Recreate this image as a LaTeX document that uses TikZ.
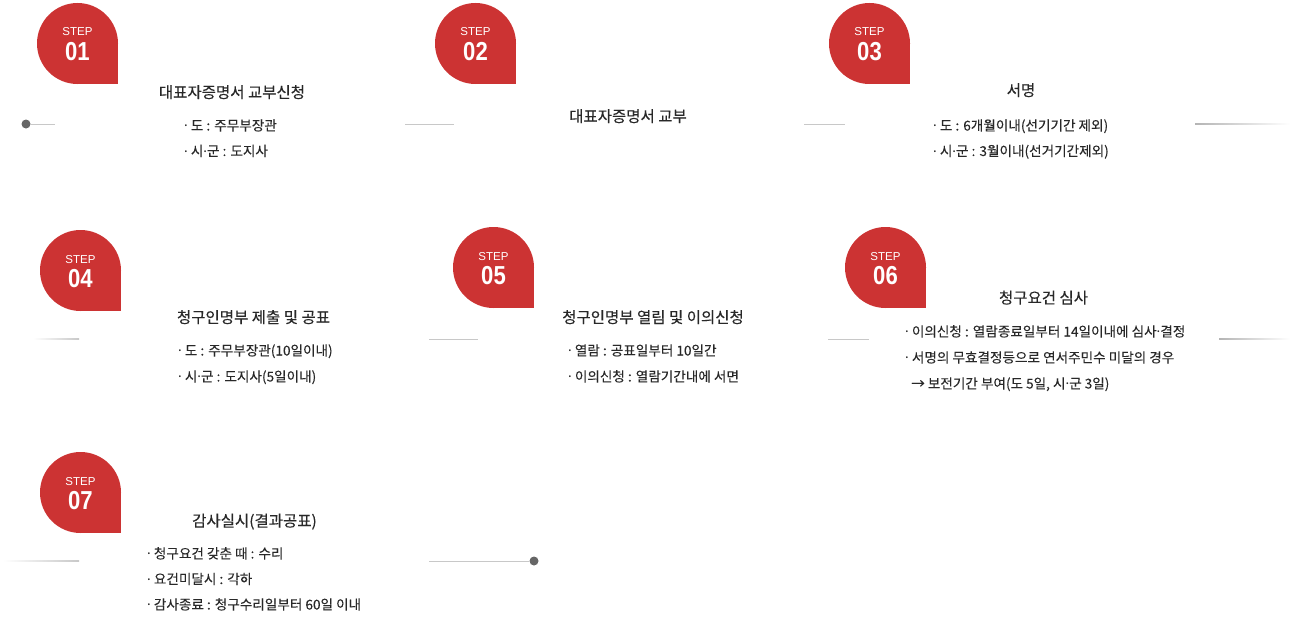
\documentclass[tikz,border=0pt]{standalone}
\usepackage{fontspec}
\usepackage{graphicx}
\setmainfont{Noto Sans CJK KR}[FakeBold=0.1]
\newfontfamily\titlefont{Noto Sans CJK KR}[FakeBold=0.25]
\newfontfamily\latinfont{Noto Sans}
\newfontfamily\stepfont{Liberation Sans}
\usepackage{tikz}

\definecolor{stepred}{RGB}{204,51,51}
\definecolor{textdark}{RGB}{40,40,40}
\definecolor{linegray}{RGB}{200,200,200}
\definecolor{dotgray}{RGB}{102,102,102}

% narrow middle dot
\newcommand{\mdot}{{\latinfont ·}}

\begin{document}
\begin{tikzpicture}[x=1pt, y=-1pt,
    badge/.style={circle, fill=stepred, minimum size=81pt, inner sep=0pt},
    steptxt/.style={anchor=base, text=white, inner sep=0pt, font=\stepfont\fontsize{11.5}{11.5}\selectfont},
    stepnum/.style={anchor=base, text=white, inner sep=0pt, font=\stepfont\bfseries\fontsize{26}{26}\selectfont},
    steptitle/.style={anchor=base, text=textdark, inner sep=0pt, font=\titlefont\fontsize{15.5}{15.5}\selectfont},
    stepitem/.style={anchor=base west, text=textdark, inner sep=0pt, font=\fontsize{13.6}{13.6}\selectfont},
    link/.style={draw=linegray, line width=1pt},
    enddot/.style={circle, fill=dotgray, minimum size=9pt, inner sep=0pt}
]
\useasboundingbox (0,0) rectangle (1297,642);

% Step badges
\foreach \n/\px/\py/\num in {s1/77.5/43.5/01, s2/475.5/43.5/02, s3/869.5/43.5/03,
    s4/80.5/270.5/04, s5/493.5/267.5/05, s6/885.5/267.5/06, s7/80.5/492.5/07} {
  \node[badge] (\n) at (\px,\py) {};
  \fill[stepred] (\n.center) rectangle (\n.east |- \n.south);
  \node[steptxt] (\n-t) at ([yshift=7.5pt]\n.center) {STEP};
  \node[stepnum] (\n-n) at ([yshift=-16.5pt]\n.center) {\scalebox{0.85}[1]{\num}};
}

% Row 1
\node[steptitle] (t1) at (232,98) {대표자증명서 교부신청};
\node[stepitem] (b1a) at (184,130.5) {\mdot{} 도 : 주무부장관};
\node[stepitem] (b1b) at (184,156) {\mdot{} 시\mdot 군 : 도지사};

\node[steptitle] (t2) at (628,122) {대표자증명서 교부};

\node[steptitle] (t3) at (1021,96) {서명};
\node[stepitem] (b3a) at (933,130.5) {\mdot{} 도 : 6개월이내(선기기간 제외)};
\node[stepitem] (b3b) at (933,156) {\mdot{} 시\mdot 군 : 3월이내(선거기간제외)};

% Row 2
\node[steptitle] (t4) at (253.5,323) {청구인명부 제출 및 공표};
\node[stepitem] (b4a) at (178,355.5) {\mdot{} 도 : 주무부장관(10일이내)};
\node[stepitem] (b4b) at (178,381.5) {\mdot{} 시\mdot 군 : 도지사(5일이내)};

\node[steptitle] (t5) at (653,323) {청구인명부 열림 및 이의신청};
\node[stepitem] (b5a) at (568,355.5) {\mdot{} 열람 : 공표일부터 10일간};
\node[stepitem] (b5b) at (568,381.5) {\mdot{} 이의신청 : 열람기간내에 서면};

\node[steptitle] (t6) at (1043.5,303.5) {청구요건 심사};
\node[stepitem] (b6a) at (905,336.5) {\mdot{} 이의신청 : 열람종료일부터 14일이내에 심사\mdot 결정};
\node[stepitem] (b6b) at (905,362.5) {\mdot{} 서명의 무효결정등으로 연서주민수 미달의 경우};
\node[stepitem] (b6c) at (911,388.5) {→ 보전기간 부여(도 5일, 시\mdot 군 3일)};

% Row 3
\node[steptitle] (t7) at (254.5,526.5) {감사실시(결과공표)};
\node[stepitem] (b7a) at (147,558.5) {\mdot{} 청구요건 갖춘 때 : 수리};
\node[stepitem] (b7b) at (147,584) {\mdot{} 요건미달시 : 각하};
\node[stepitem] (b7c) at (147,609.5) {\mdot{} 감사종료 : 청구수리일부터 60일 이내};

% Timeline
\node[enddot] (start) at (26,124) {};
\coordinate (c1) at (55,124);
\coordinate (c12a) at (405,124);
\coordinate (c12b) at (454,124);
\coordinate (c23a) at (804,124);
\coordinate (c23b) at (845,124);
\coordinate (c3a) at (1195,124);
\coordinate (c3b) at (1290,124);
\coordinate (c4a) at (33,339);
\coordinate (c4b) at (79,339);
\coordinate (c45a) at (429,339);
\coordinate (c45b) at (478,339);
\coordinate (c56a) at (828,339);
\coordinate (c56b) at (869,339);
\coordinate (c6a) at (1219,339);
\coordinate (c6b) at (1290,339);
\coordinate (c7a) at (3,561);
\coordinate (c7b) at (79,561);
\coordinate (c7c) at (429,561);
\node[enddot] (finish) at (534,561) {};

\draw[link] (start) -- (c1);
\draw[link] (c12a) -- (c12b);
\draw[link] (c23a) -- (c23b);
\shade[left color=linegray!90!black, right color=white] ([yshift=0.5pt]c3a) rectangle ([yshift=-0.5pt]c3b);
\shade[left color=white, right color=linegray] ([yshift=0.5pt]c4a) rectangle ([yshift=-0.5pt]c4b);
\draw[link] (c45a) -- (c45b);
\draw[link] (c56a) -- (c56b);
\shade[left color=linegray!90!black, right color=white] ([yshift=0.5pt]c6a) rectangle ([yshift=-0.5pt]c6b);
\shade[left color=white, right color=linegray] ([yshift=0.5pt]c7a) rectangle ([yshift=-0.5pt]c7b);
\draw[link] (c7c) -- (finish);

\end{tikzpicture}
\end{document}
